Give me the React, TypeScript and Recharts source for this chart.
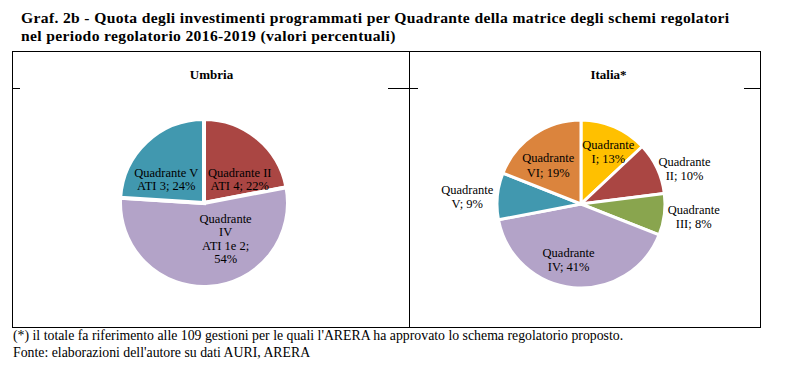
import React from "react";
import { PieChart, Pie, Cell } from "recharts";

// Umbria: quote per quadrante (valori percentuali)
const umbriaNames = [["Quadrante II", "ATI 4"], ["Quadrante", "IV", "ATI 1e 2"], ["Quadrante V", "ATI 3"]];
const umbriaValues = [22, 54, 24];
const umbriaColors = ["#AA4643", "#B3A3C8", "#4198AF"];

// Italia*
const italiaNames = [["Quadrante", "I"], ["Quadrante", "II"], ["Quadrante", "III"], ["Quadrante", "IV"], ["Quadrante", "V"], ["Quadrante", "VI"]];
const italiaValues = [13, 10, 8, 41, 9, 19];
const italiaColors = ["#FFC000", "#AA4643", "#89A54E", "#B3A3C8", "#4198AF", "#DB843D"];

const titleLines = [
  "Graf. 2b - Quota degli investimenti programmati per Quadrante della matrice degli schemi regolatori",
  "nel periodo regolatorio 2016-2019 (valori percentuali)",
];
const noteLines = [
  "(*) il totale fa riferimento alle 109 gestioni per le quali l'ARERA ha approvato lo schema regolatorio proposto.",
  "Fonte: elaborazioni dell'autore su dati AURI, ARERA",
];

// label placement (radius factor + small nudge), like Excel "best fit"
const umbriaLabelPos = [
  { k: 0.5, dx: 9, dy: 9, breakValue: false },
  { k: 0.5, dx: 19, dy: -6, breakValue: true },
  { k: 0.5, dx: -9, dy: 7, breakValue: false },
];
const italiaLabelPos = [
  { k: 0.7, dx: 4, dy: 2 },
  { k: 1.31, dx: 4, dy: 12 },
  { k: 1.34, dx: 1, dy: -1 },
  { k: 0.68, dx: -7, dy: -1 },
  { k: 1.36, dx: 0, dy: 4 },
  { k: 0.61, dx: -4, dy: 4 },
];

const SERIF = '"Liberation Serif", "Times New Roman", serif';
const RAD = Math.PI / 180;

type Pos = { k: number; dx: number; dy: number; breakValue?: boolean };

function makeLabel(names: string[][], pos: Pos[], lh: number) {
  return (p: any) => {
    const i = p.index;
    const r = p.outerRadius * pos[i].k;
    const x = p.cx + r * Math.cos(-p.midAngle * RAD) + pos[i].dx;
    const y = p.cy + r * Math.sin(-p.midAngle * RAD) + pos[i].dy;
    const lines = [...names[i]];
    const v = `${p.value}%`;
    if (pos[i].breakValue) {
      lines[lines.length - 1] += ";";
      lines.push(v);
    } else {
      lines[lines.length - 1] += "; " + v;
    }
    const y0 = y - ((lines.length - 1) * lh) / 2;
    return (
      <text x={x} y={y0} textAnchor="middle" dominantBaseline="central" fontFamily={SERIF} fontSize={12.5} fill="#000">
        {lines.map((l, j) => (
          <tspan key={j} x={x} y={y0 + j * lh}>
            {l}
          </tspan>
        ))}
      </text>
    );
  };
}

function Panel({
  title,
  names,
  values,
  colors,
  pos,
  cx,
  cy,
  stroke,
  lh,
}: {
  title: string;
  names: string[][];
  values: number[];
  colors: string[];
  pos: Pos[];
  cx: number;
  cy: number;
  stroke: number;
  lh: number;
}) {
  const data = values.map((v, i) => ({ name: names[i].join(" "), value: v }));
  return (
    <div style={{ position: "relative", width: 397, height: 275 }}>
      <div
        style={{
          position: "absolute",
          left: 0,
          top: 14,
          width: 397,
          textAlign: "center",
          fontFamily: SERIF,
          fontWeight: "bold",
          fontSize: 13,
        }}
      >
        {title}
      </div>
      <PieChart width={397} height={275} margin={{ top: 0, right: 0, bottom: 0, left: 0 }}>
        <Pie
          data={data}
          dataKey="value"
          cx={cx}
          cy={cy}
          outerRadius={84}
          startAngle={90}
          endAngle={-270}
          stroke="#fff"
          strokeWidth={stroke}
          isAnimationActive={false}
          labelLine={false}
          label={makeLabel(names, pos, lh)}
        >
          {data.map((d, i) => (
            <Cell key={d.name} fill={colors[i]} />
          ))}
        </Pie>
      </PieChart>
    </div>
  );
}

const tick = (left: number, width: number): React.CSSProperties => ({
  position: "absolute",
  left,
  top: 88,
  width,
  height: 1,
  background: "#000",
});

export default function App() {
  return (
    <div style={{ position: "absolute", left: 0, top: 0, width: 805, height: 376, background: "#fff", fontFamily: SERIF }}>
      {titleLines.map((t, i) => (
        <div
          key={t}
          style={{
            position: "absolute",
            left: 21,
            top: 10 + i * 18,
            fontWeight: "bold",
            fontSize: 15.6,
            letterSpacing: 0.35,
            lineHeight: "16px",
            whiteSpace: "nowrap",
          }}
        >
          {t}
        </div>
      ))}
      <div style={{ position: "absolute", left: 12, top: 51, width: 747, height: 275, border: "1px solid #000" }} />
      <div style={{ position: "absolute", left: 409, top: 51, width: 1, height: 277, background: "#000" }} />
      <div style={tick(13, 7)} />
      <div style={tick(388, 21)} />
      <div style={tick(410, 8)} />
      <div style={tick(744, 16)} />
      <div style={{ position: "absolute", left: 13, top: 53 }}>
        <Panel title="Umbria" names={umbriaNames} values={umbriaValues} colors={umbriaColors} pos={umbriaLabelPos} cx={191} cy={150} stroke={4} lh={13.5} />
      </div>
      <div style={{ position: "absolute", left: 410, top: 53 }}>
        <Panel title="Italia*" names={italiaNames} values={italiaValues} colors={italiaColors} pos={italiaLabelPos} cx={171} cy={151} stroke={3} lh={14.5} />
      </div>
      {noteLines.map((t, i) => (
        <div key={t} style={{ position: "absolute", left: 13, top: 328 + i * 17, fontSize: 13.8, lineHeight: "16px", whiteSpace: "nowrap" }}>
          {t}
        </div>
      ))}
    </div>
  );
}
